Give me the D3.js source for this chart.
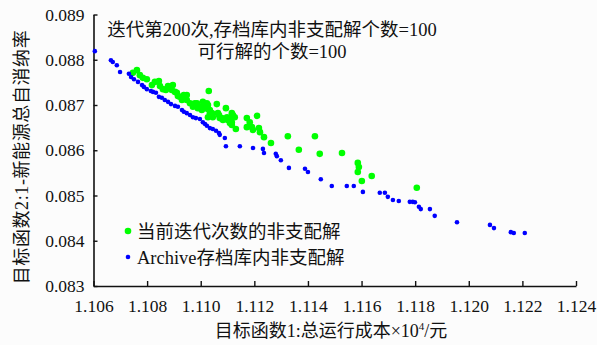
<!DOCTYPE html>
<html>
<head>
<meta charset="utf-8">
<script src="https://cdn.jsdelivr.net/npm/d3@7"></script>
<style>
  body { margin: 0; background: #fff; }
  text { font-family: "Liberation Serif", "Noto Sans CJK SC", serif; fill: #111; }
</style>
</head>
<body>
<div id="chart"></div>
<script>
// archive (blue) non-dominated solutions: [cost, rate]
const archiveX = [1.10605,1.10665,1.10672,1.10687,1.10699,1.10732,1.10740,1.10751,1.10766,1.10781,1.10788,1.10799,1.10814,1.10822,1.10833,1.10844,1.10855,1.10866,1.10878,1.10889,1.10904,1.10915,1.10930,1.10937,1.10948,1.10960,1.10971,1.10982,1.10997,1.11008,1.11016,1.11023,1.11034,1.11045,1.11057,1.11068,1.11071,1.11090,1.11094,1.11146,1.11195,1.11232,1.11236,1.11280,1.11284,1.11299,1.11329,1.11389,1.11400,1.11448,1.11489,1.11545,1.11571,1.11605,1.11668,1.11687,1.11698,1.11717,1.11739,1.11780,1.11791,1.11799,1.11814,1.11821,1.11855,1.11873,1.11956,1.12079,1.12094,1.12157,1.12168,1.12209];
const archiveY = [0.08819,0.08799,0.08795,0.08788,0.08773,0.08769,0.08762,0.08757,0.08751,0.08744,0.08740,0.08735,0.08731,0.08729,0.08727,0.08718,0.08716,0.08711,0.08707,0.08702,0.08698,0.08696,0.08689,0.08685,0.08682,0.08678,0.08673,0.08671,0.08669,0.08662,0.08658,0.08654,0.08649,0.08647,0.08643,0.08638,0.08634,0.08627,0.08609,0.08609,0.08605,0.08603,0.08594,0.08592,0.08587,0.08578,0.08561,0.08559,0.08552,0.08536,0.08521,0.08521,0.08521,0.08508,0.08506,0.08506,0.08497,0.08490,0.08488,0.08486,0.08486,0.08485,0.08475,0.08470,0.08470,0.08455,0.08441,0.08435,0.08428,0.08419,0.08417,0.08417];

// current iteration (green) non-dominated solutions
const currentX = [1.10747,1.10762,1.10773,1.10784,1.10799,1.10818,1.10829,1.10844,1.10848,1.10859,1.10870,1.10878,1.10889,1.10896,1.10892,1.10904,1.10911,1.10915,1.10922,1.10930,1.10937,1.10948,1.10948,1.10960,1.10971,1.10978,1.10986,1.10989,1.11001,1.11004,1.11008,1.11016,1.11023,1.11030,1.11027,1.11027,1.11034,1.11034,1.11042,1.11027,1.11045,1.11060,1.11064,1.11068,1.11071,1.11079,1.11083,1.11094,1.11098,1.11101,1.11109,1.11109,1.11116,1.11116,1.11116,1.11120,1.11127,1.11131,1.11172,1.11183,1.11172,1.11191,1.11195,1.11210,1.11217,1.11221,1.11236,1.11262,1.11325,1.11366,1.11426,1.11444,1.11527,1.11586,1.11590,1.11586,1.11638,1.11601,1.11806];
const currentY = [0.08771,0.08777,0.08766,0.08760,0.08757,0.08744,0.08751,0.08753,0.08742,0.08735,0.08733,0.08742,0.08738,0.08744,0.08733,0.08729,0.08727,0.08720,0.08718,0.08711,0.08722,0.08722,0.08711,0.08704,0.08696,0.08704,0.08704,0.08693,0.08696,0.08689,0.08707,0.08693,0.08704,0.08731,0.08700,0.08691,0.08689,0.08682,0.08682,0.08673,0.08673,0.08702,0.08682,0.08678,0.08671,0.08671,0.08667,0.08693,0.08673,0.08667,0.08671,0.08660,0.08682,0.08662,0.08656,0.08678,0.08673,0.08647,0.08671,0.08662,0.08651,0.08651,0.08645,0.08676,0.08649,0.08640,0.08629,0.08616,0.08631,0.08601,0.08631,0.08592,0.08594,0.08572,0.08563,0.08552,0.08543,0.08532,0.08517];

const xTicks = [1.106,1.108,1.110,1.112,1.114,1.116,1.118,1.120,1.122,1.124];
const yTicks = [0.083,0.084,0.085,0.086,0.087,0.088,0.089];

const titleLines = ["迭代第200次,存档库内非支配解个数=100", "可行解的个数=100"];
const legendLabels = ["当前迭代次数的非支配解", "Archive存档库内非支配解"];

const W = 611, H = 345;
const svg = d3.select("#chart").append("svg")
  .attr("width", W)
  .attr("height", H);

svg.append("rect").attr("width", 597).attr("height", H).attr("fill", "#fcfcfc");

const x = d3.scaleLinear().domain([1.106, 1.124]).range([93.5, 576]);
const y = d3.scaleLinear().domain([0.083, 0.089]).range([286, 14.5]);

// axes, ticks pointing inward
const gx = svg.append("g")
  .attr("transform", `translate(0,${y(0.083)})`)
  .call(d3.axisBottom(x).tickValues(xTicks).tickFormat(d3.format(".3f")).tickSizeInner(-5).tickSizeOuter(0).tickPadding(14));
const gy = svg.append("g")
  .attr("transform", `translate(${x(1.106)},0)`)
  .call(d3.axisLeft(y).tickValues(yTicks).tickFormat(d3.format(".3f")).tickSizeInner(-4).tickSizeOuter(0).tickPadding(9));

[gx, gy].forEach(g => {
  g.select(".domain").attr("stroke", "#111").attr("stroke-width", 1.6);
  g.selectAll(".tick line").attr("stroke", "#111").attr("stroke-width", 1.4);
  g.selectAll(".tick text")
    .attr("font-family", "Liberation Serif, serif")
    .attr("font-size", 17.5)
    .attr("fill", "#222");
});

const current = currentX.map((v, i) => ({ cx: v, cy: currentY[i] }));
const archive = archiveX.map((v, i) => ({ cx: v, cy: archiveY[i] }));

svg.append("g").selectAll("circle")
  .data(current)
  .enter()
  .append("circle")
  .attr("cx", d => x(d.cx))
  .attr("cy", d => y(d.cy))
  .attr("r", 3.3)
  .attr("fill", "#00ff00");

svg.append("g").selectAll("circle")
  .data(archive)
  .enter()
  .append("circle")
  .attr("cx", d => x(d.cx))
  .attr("cy", d => y(d.cy))
  .attr("r", 2.3)
  .attr("fill", "#0000ff");

// title
svg.append("g").selectAll("text")
  .data(titleLines)
  .enter()
  .append("text")
  .attr("x", 272)
  .attr("y", (d, i) => 36 + i * 22)
  .attr("text-anchor", "middle")
  .attr("font-size", 18.5)
  .text(d => d);

// legend
const legend = svg.append("g");
legend.selectAll("circle")
  .data(legendLabels)
  .enter()
  .append("circle")
  .attr("cx", 128)
  .attr("cy", (d, i) => 231 + i * 26)
  .attr("r", (d, i) => i === 0 ? 3.3 : 2.3)
  .attr("fill", (d, i) => i === 0 ? "#00ff00" : "#0000ff");
legend.selectAll("text")
  .data(legendLabels)
  .enter()
  .append("text")
  .attr("x", 137)
  .attr("y", (d, i) => 237.5 + i * 26)
  .attr("font-size", 18.5)
  .text(d => d);

// axis titles
const xl = svg.append("text")
  .attr("x", 331)
  .attr("y", 337)
  .attr("text-anchor", "middle")
  .attr("font-size", 18);
xl.append("tspan").text("目标函数1:总运行成本×10");
xl.append("tspan").attr("dy", -7).attr("font-size", 11).text("4");
xl.append("tspan").attr("dy", 7).text("/元");

svg.append("text")
  .attr("transform", "translate(28,157) rotate(-90)")
  .attr("text-anchor", "middle")
  .attr("font-size", 18)
  .attr("letter-spacing", 0.6)
  .text("目标函数2:1-新能源总自消纳率");
</script>
</body>
</html>
